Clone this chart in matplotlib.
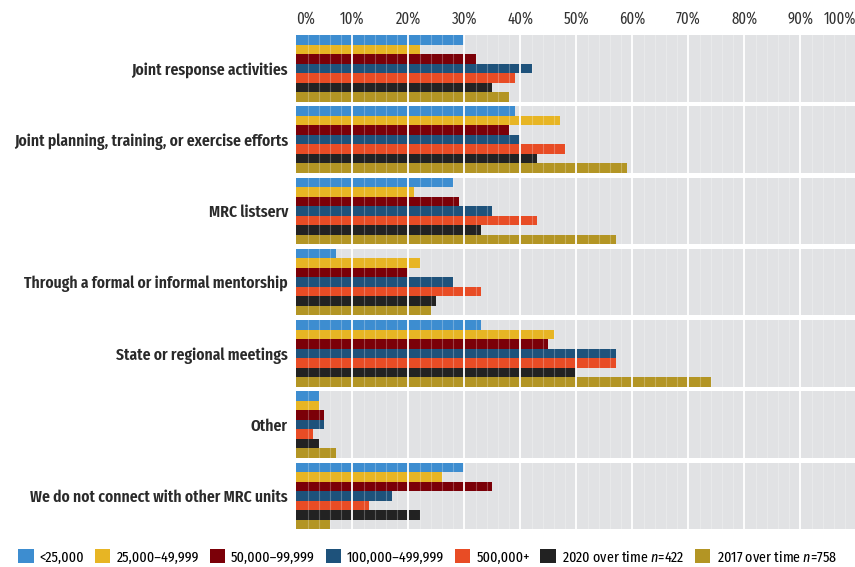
import matplotlib
matplotlib.use("Agg")
import matplotlib.pyplot as plt
from matplotlib.patches import Patch
import numpy as np

FONT = ["Fira Sans Extra Condensed", "DejaVu Sans"]
plt.rcParams["font.family"] = FONT
plt.rcParams["mathtext.fontset"] = "custom"
plt.rcParams["mathtext.it"] = "Fira Sans Extra Condensed:italic"

CATEGORIES = [
    "Joint response activities",
    "Joint planning, training, or exercise efforts",
    "MRC listserv",
    "Through a formal or informal mentorship",
    "State or regional meetings",
    "Other",
    "We do not connect with other MRC units",
]
SERIES = [
    "<25,000", "25,000–49,999", "50,000–99,999", "100,000–499,999",
    "500,000+", "2020 over time $n$=422", "2017 over time $n$=758",
]
COLORS = ["#3d8dd0", "#e7b524", "#7b0008", "#1e527b", "#e84c25", "#222222", "#b39524"]

# percent of respondents, one list per series (order follows CATEGORIES)
UNDER_25K = [30, 39, 28, 7, 33, 4, 30]
K25_50 = [22, 47, 21, 22, 46, 4, 26]
K50_100 = [32, 38, 29, 20, 45, 5, 35]
K100_500 = [42, 40, 35, 28, 57, 5, 17]
OVER_500K = [39, 48, 43, 33, 57, 3, 13]
OVERALL_2020 = [35, 43, 33, 25, 50, 4, 22]
OVERALL_2017 = [38, 59, 57, 24, 74, 7, 6]
VALUES = [UNDER_25K, K25_50, K50_100, K100_500, OVER_500K, OVERALL_2020, OVERALL_2017]

XTICKS = list(range(0, 101, 10))
XTICK_LABELS = [f"{t}%" for t in XTICKS]

BAR_H = 1.0
PITCH = 7.5
n_ser = len(SERIES)

fig = plt.figure(figsize=(8.55, 5.67), dpi=100)
ax = fig.add_axes([296.3 / 855, 1 - 529 / 567, 560 / 855, 494 / 567])

for g, cat in enumerate(CATEGORIES):
    top = g * PITCH
    ax.axhspan(top, top + n_ser * BAR_H, color="#e1e2e4", zorder=0, lw=0)
    for s in range(n_ser):
        ax.barh(top + s * BAR_H + BAR_H / 2, VALUES[s][g], height=BAR_H,
                color=COLORS[s], zorder=2, lw=0)

# minor + major grid drawn over the bars
for x in np.arange(2, 100, 2):
    if x % 10:
        ax.axvline(x, color="white", lw=0.8, alpha=0.25, zorder=3)
for x in XTICKS[1:]:
    ax.axvline(x, color="white", lw=1.3, zorder=4)

ax.set_xlim(0, 100)
ax.set_ylim((len(CATEGORIES) - 1) * PITCH + n_ser * BAR_H, 0)
ax.set_facecolor("white")
for sp in ax.spines.values():
    sp.set_visible(False)

ax.set_yticks([g * PITCH + n_ser * BAR_H / 2 for g in range(len(CATEGORIES))])
ax.set_yticklabels(CATEGORIES, fontsize=12.2, fontweight="semibold", color="#2a2a2a")
ax.tick_params(axis="y", length=0, pad=6)

ax.xaxis.tick_top()
ax.set_xticks(XTICKS)
ax.set_xticklabels(XTICK_LABELS, fontsize=11.5, color="#333333")
ax.tick_params(axis="x", length=0, pad=6)
labs = ax.get_xticklabels()
labs[0].set_horizontalalignment("left")
labs[-1].set_horizontalalignment("right")

handles = [Patch(facecolor=c, edgecolor="none") for c in COLORS]
fig.legend(handles, SERIES, loc="center", bbox_to_anchor=(0.5, 1 - 557 / 567),
           ncol=n_ser, frameon=False, fontsize=11, handlelength=1.0,
           handleheight=1.0, handletextpad=0.4, columnspacing=0.7)

fig.savefig("out.png", dpi=100)
